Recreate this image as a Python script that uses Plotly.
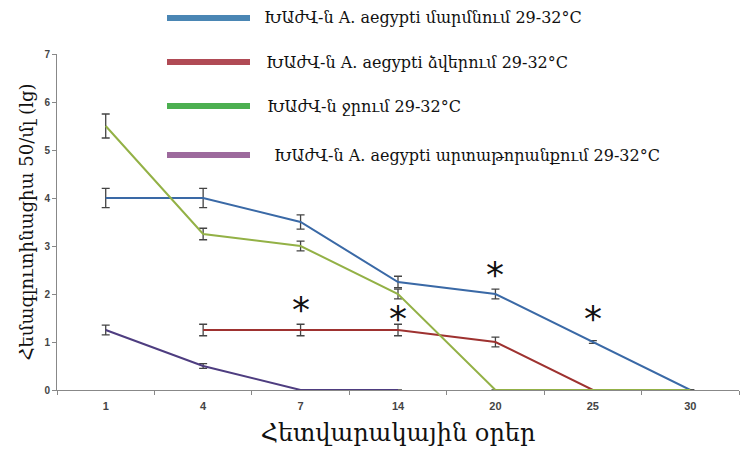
import plotly.graph_objects as go

days = ["1", "4", "7", "14", "20", "25", "30"]

body = [4.0, 4.0, 3.5, 2.25, 2.0, 1.0, 0.0]
body_err = [0.2, 0.2, 0.15, 0.12, 0.1, 0.03, 0.0]

eggs = [None, 1.25, 1.25, 1.25, 1.0, 0.0, None]
eggs_err = [0, 0.12, 0.12, 0.12, 0.1, 0.0, 0]

water = [5.5, 3.25, 3.0, 2.0, 0.0, 0.0, 0.0]
water_err = [0.25, 0.12, 0.1, 0.1, 0.0, 0.0, 0.0]

excr = [1.25, 0.5, 0.0, 0.0, None, None, None]
excr_err = [0.1, 0.05, 0.0, 0.0, 0, 0, 0]

legend_labels = [
    "ԽԱժՎ-ն A. aegypti մարմնում 29-32°C",
    "ԽԱժՎ-ն A. aegypti ձվերում 29-32°C",
    "ԽԱժՎ-ն ջրում 29-32°C",
    "ԽԱժՎ-ն A. aegypti արտաթորանքում 29-32°C",
]
legend_colors = ["#4a86b4", "#b04a55", "#4caf50", "#9d6a9d"]

star_x = ["7", "14", "20", "25"]
star_y = [1.68, 1.5, 2.4, 1.5]

line_colors = ["#3a69a6", "#9e3230", "#93b146", "#4e3d80"]
series = [(body, body_err), (eggs, eggs_err), (water, water_err), (excr, excr_err)]

fig = go.Figure()
for (vals, errs), col, name in zip(series, line_colors, legend_labels):
    fig.add_trace(go.Scatter(
        x=days, y=vals, mode="lines", name=name, showlegend=False,
        line=dict(color=col, width=2),
        error_y=dict(type="data", array=errs, visible=True,
                     color="#444444", thickness=1.3, width=4),
    ))

for sx, sy in zip(star_x, star_y):
    fig.add_annotation(x=days.index(sx), y=sy, text="*", showarrow=False,
                       font=dict(family="DejaVu Sans", size=36, color="#111111"))

# page offset (browser body margin) compensation
OX, OY = 8, 8
W, H = 755, 462
# target plot area in screen pixels: x 57..739, y 54..390
L = 57 - OX
T = 54 - OY
R = W - (739 - OX)
B = H - (390 - OY)
pw, ph = W - L - R, H - T - B

def px(x):
    return (x - OX - L) / pw

def py(y):
    return (H - B - (y - OY)) / ph

leg_y = [18, 62, 106, 155]
leg_tx = [262, 264, 265, 272]
for lbl, col, yy, tx in zip(legend_labels, legend_colors, leg_y, leg_tx):
    fig.add_shape(type="line", xref="paper", yref="paper",
                  x0=px(167), x1=px(250), y0=py(yy), y1=py(yy),
                  line=dict(color=col, width=6))
    fig.add_annotation(xref="paper", yref="paper", x=px(tx), y=py(yy),
                       text=lbl, showarrow=False, xanchor="left", yanchor="middle",
                       font=dict(family="DejaVu Serif", size=16, color="#111111"))

tick_font = dict(size=10, color="#444444", family="Liberation Sans", weight="bold")

fig.update_layout(
    width=W, height=H,
    margin=dict(l=L, r=R, t=T, b=B),
    paper_bgcolor="white", plot_bgcolor="white",
    font=dict(family="DejaVu Sans", color="#333333"),
    xaxis=dict(
        type="category", categoryorder="array", categoryarray=days,
        range=[-0.5, 6.5], automargin=False, layer="below traces",
        showline=True, linecolor="#888888", linewidth=1,
        ticks="outside", tickson="boundaries", ticklen=4, tickcolor="#888888",
        showgrid=False, zeroline=False,
        tickfont=dict(size=11, color="#444444", family="Liberation Sans", weight="bold"),
        ticklabelstandoff=6,
        title=dict(text="Հետվարակային օրեր", standoff=12,
                   font=dict(family="DejaVu Serif", size=24, color="#111111")),
    ),
    yaxis=dict(
        range=[0, 7], dtick=1, automargin=False, layer="below traces",
        showline=True, linecolor="#888888", linewidth=1,
        ticks="outside", ticklen=4, tickcolor="#888888",
        showgrid=False, zeroline=False,
        tickfont=tick_font,
        title=dict(text="Հեմագլուտինացիա 50/մլ (lg)", standoff=6,
                   font=dict(family="DejaVu Serif", size=18, color="#111111")),
    ),
)

fig.write_html("out.html")
